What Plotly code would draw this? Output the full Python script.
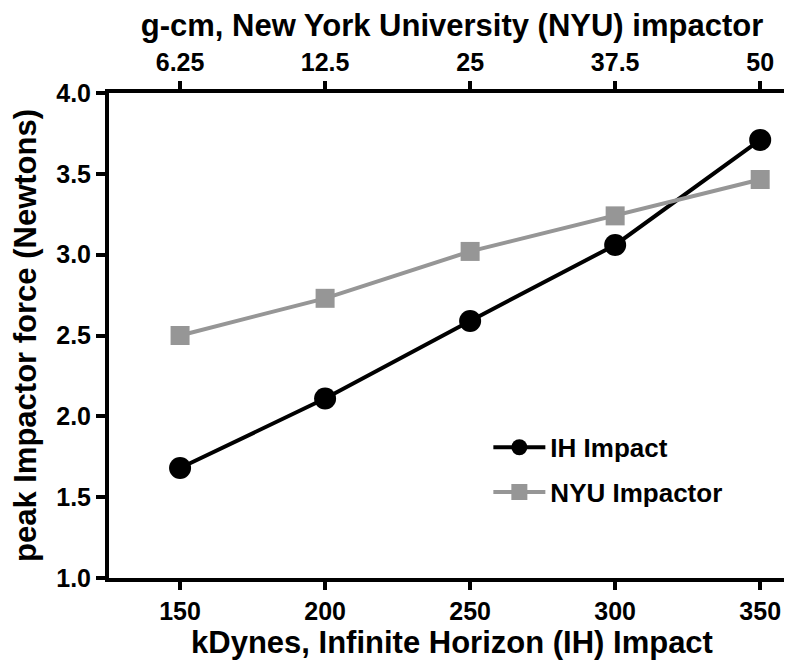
import plotly.graph_objects as go

# valeurs
kdynes = [150, 200, 250, 300, 350]
gcm_labels = ["6.25", "12.5", "25", "37.5", "50"]
ih_force = [1.68, 2.11, 2.59, 3.06, 3.71]
nyu_force = [2.50, 2.73, 3.02, 3.24, 3.465]

y_ticks = [1.0, 1.5, 2.0, 2.5, 3.0, 3.5, 4.0]

police = "Liberation Sans, Arial, sans-serif"
gris = "#969696"

fig = go.Figure()

fig.add_trace(go.Scatter(
    x=kdynes, y=ih_force, mode="lines+markers", name="IH Impact",
    line=dict(color="black", width=4),
    marker=dict(symbol="circle", size=22, color="black"),
    legendgroup="ih", cliponaxis=False
))

fig.add_trace(go.Scatter(
    x=kdynes, y=nyu_force, mode="lines+markers", name="NYU Impactor",
    line=dict(color=gris, width=4),
    marker=dict(symbol="square", size=19, color=gris),
    legendgroup="nyu", cliponaxis=False
))

# trace invisible pour afficher l'axe du haut (g-cm)
fig.add_trace(go.Scatter(
    x=kdynes, y=nyu_force, xaxis="x2", mode="markers",
    marker=dict(opacity=0), showlegend=False, hoverinfo="skip"
))

axe = dict(
    showline=True, linecolor="black", linewidth=4,
    ticks="outside", ticklen=8, tickwidth=4, tickcolor="black",
    showgrid=False, zeroline=False,
    tickfont=dict(family=police, size=25, color="black", weight="bold"),
)
titre_font = dict(family=police, size=31, color="black", weight="bold")

fig.update_layout(
    width=792, height=660,
    margin=dict(l=101, r=5, t=85, b=90),
    paper_bgcolor="white", plot_bgcolor="white",
    font=dict(family=police, color="black"),
    xaxis=dict(
        axe, range=[125.5, 362], tickvals=kdynes,
        title=dict(text="kDynes, Infinite Horizon (IH) Impact", standoff=3, font=titre_font),
    ),
    xaxis2=dict(
        axe, range=[125.5, 362], overlaying="x", side="top", anchor="y",
        tickvals=kdynes, ticktext=gcm_labels,
        title=dict(text="g-cm, New York University (NYU) impactor", standoff=10, font=titre_font),
    ),
    yaxis=dict(
        axe, range=[1.0, 4.0], tickvals=y_ticks, tickformat=".1f", ticklen=9,
        title=dict(text="peak Impactor force (Newtons)", standoff=22, font=titre_font),
    ),
    legend=dict(
        x=0.553, y=0.223, xanchor="left", yanchor="middle",
        bgcolor="rgba(0,0,0,0)", tracegroupgap=8, itemwidth=52,
        font=dict(family=police, size=26, color="black", weight="bold"),
    ),
)

fig.write_html("out.html")
